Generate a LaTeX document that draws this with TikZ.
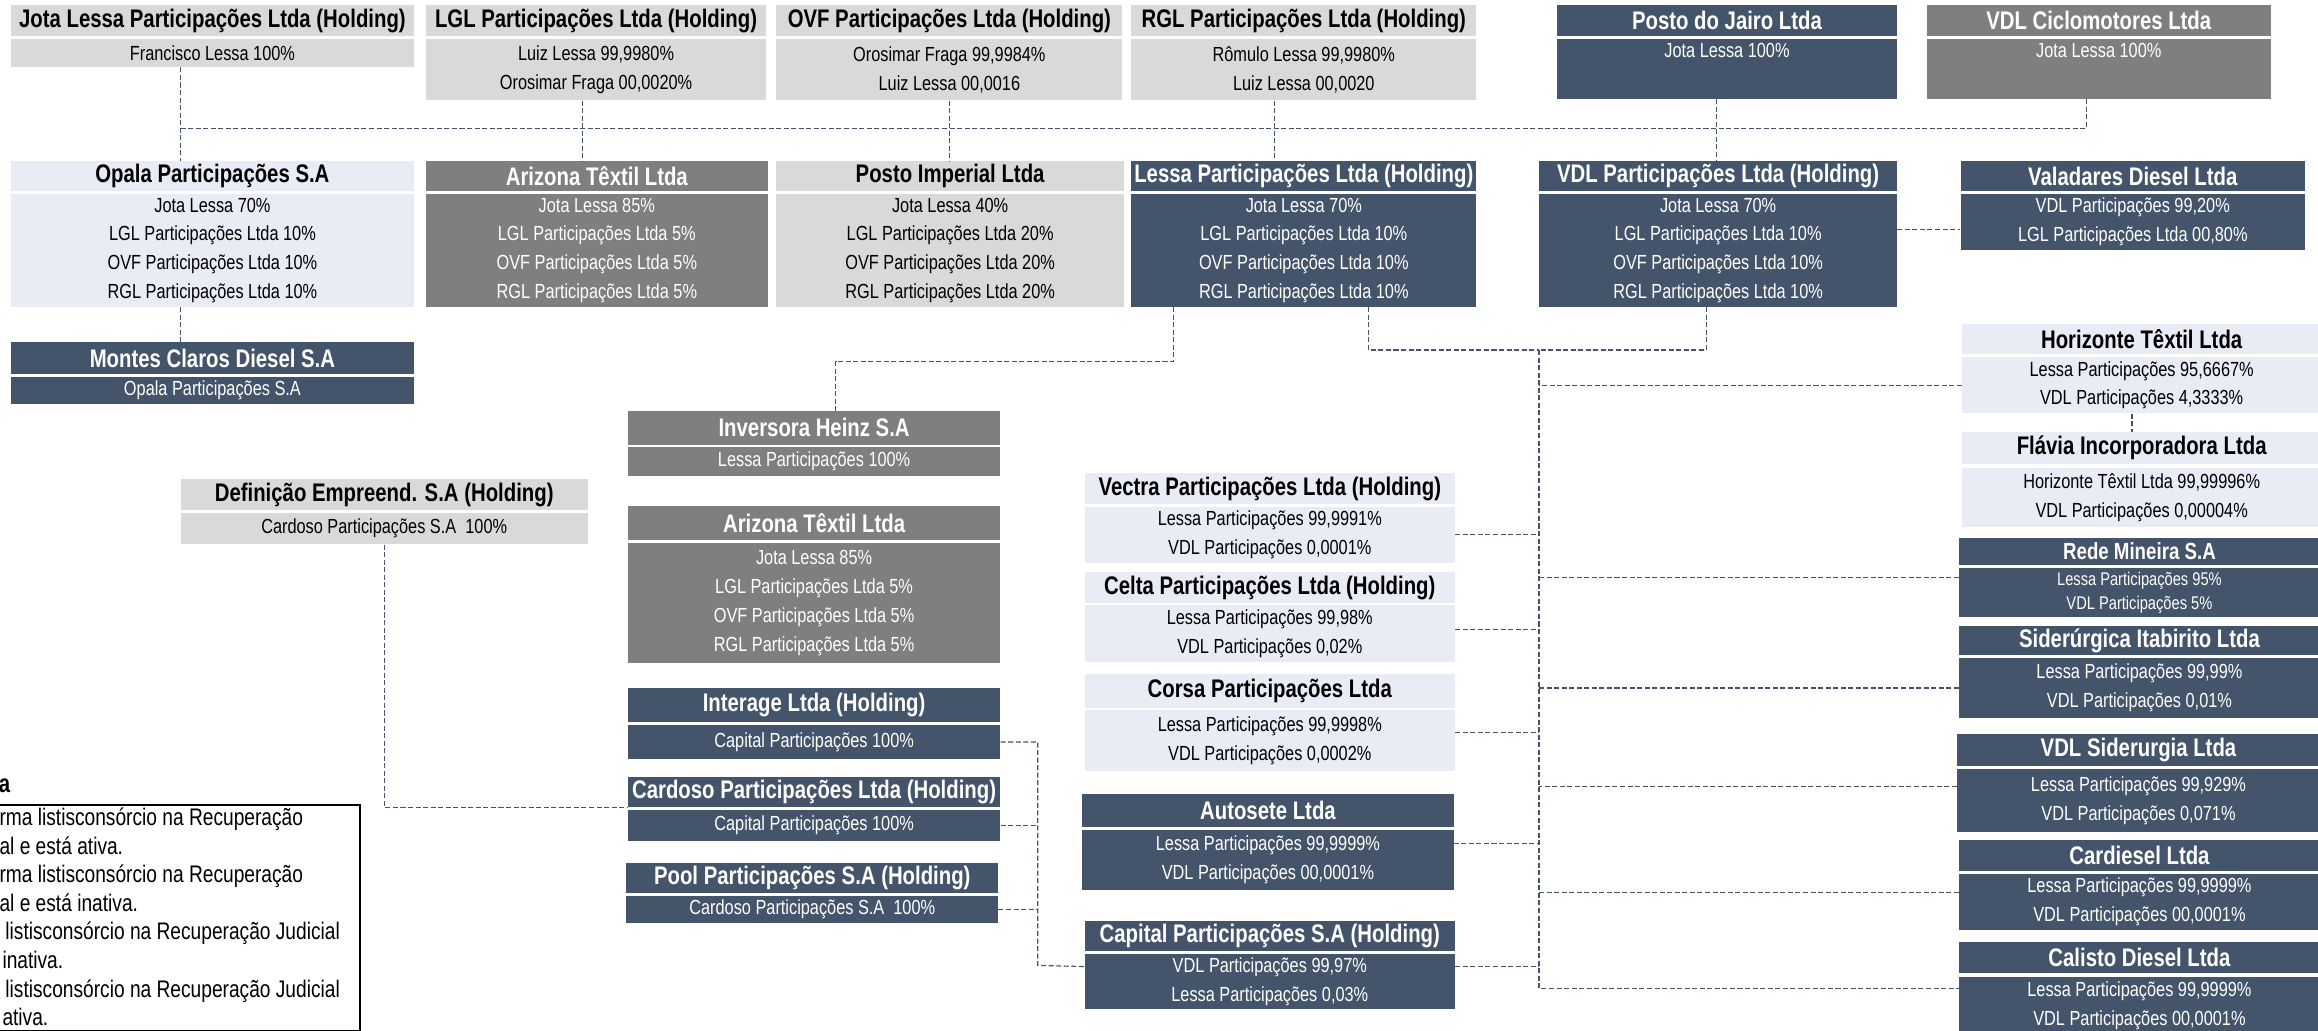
\documentclass[tikz,border=0pt]{standalone}
\usepackage{fontspec}
\setmainfont{Liberation Sans}
\newfontfamily\narrowfam[FakeStretch=0.8]{Liberation Sans}
\usetikzlibrary{positioning}
\definecolor{slate}{HTML}{44546A}
\definecolor{midgray}{HTML}{7F7F7F}
\definecolor{ltgray}{HTML}{D9D9D9}
\definecolor{paleblue}{HTML}{E9EBF5}
\newcommand{\titlefont}{\narrowfam\bfseries\fontsize{17.2}{19}\selectfont}
\newcommand{\rowfont}{\narrowfam\fontsize{13.8}{19.5}\selectfont}
\newcommand{\smalltitle}{\narrowfam\bfseries\fontsize{15.8}{17}\selectfont}
\newcommand{\smallrow}{\narrowfam\fontsize{12.4}{16}\selectfont}
\newcommand{\legendfont}{\narrowfam\fontsize{16.2}{19.3}\selectfont}
\begin{document}
\begin{tikzpicture}[x=1pt,y=-1pt,
    hdr/.style={rectangle,inner sep=0pt,minimum height=21pt,font=\titlefont,anchor=north west},
    bdy/.style={rectangle,inner sep=0pt,align=center,font=\rowfont},
    dk/.style={fill=slate,text=white},
    gy/.style={fill=midgray,text=white},
    lg/.style={fill=ltgray,text=black},
    lb/.style={fill=paleblue,text=black},
    link/.style={draw=slate,line width=0.8pt,dash pattern=on 3.4pt off 1.7pt}]
  \clip (0,0) rectangle (1568,697);
  % holdings on top
  \node[hdr,lg,minimum width=273pt] (jotaH) at (7,3.4) {Jota Lessa Participações Ltda (Holding)};
  \node[bdy,lg,minimum width=273pt,minimum height=19pt,below=1.4pt of jotaH] (jota) {Francisco Lessa 100\%};
  \node[hdr,lg,minimum width=230pt] (lglH) at (288,3.4) {LGL Participações Ltda (Holding)};
  \node[bdy,lg,minimum width=230pt,minimum height=41.5pt,below=1.4pt of lglH] (lgl) {Luiz Lessa 99,9980\%\\Orosimar Fraga 00,0020\%};
  \node[hdr,lg,minimum width=234pt] (ovfH) at (525,3.4) {OVF Participações Ltda (Holding)};
  \node[bdy,lg,minimum width=234pt,minimum height=41.5pt,below=1.4pt of ovfH] (ovf) {Orosimar Fraga 99,9984\%\\Luiz Lessa 00,0016};
  \node[hdr,lg,minimum width=233.5pt] (rglH) at (765,3.4) {RGL Participações Ltda (Holding)};
  \node[bdy,lg,minimum width=233.5pt,minimum height=41.5pt,below=1.4pt of rglH] (rgl) {Rômulo Lessa 99,9980\%\\Luiz Lessa 00,0020};
  \node[hdr,dk,minimum width=230pt] (jairoH) at (1053,3.4) {Posto do Jairo Ltda};
  \node[bdy,dk,minimum width=230pt,minimum height=40.5pt,below=1.4pt of jairoH] (jairo) {Jota Lessa 100\%\\ \strut};
  \node[hdr,gy,minimum width=233pt] (cicloH) at (1303,3.4) {VDL Ciclomotores Ltda};
  \node[bdy,gy,minimum width=233pt,minimum height=40.5pt,below=1.4pt of cicloH] (ciclo) {Jota Lessa 100\%\\ \strut};

  % second row
  \node[hdr,lb,minimum width=273pt,minimum height=20pt] (opalaH) at (7,109) {Opala Participações S.A};
  \node[bdy,lb,minimum width=273pt,minimum height=76.5pt,below=1.5pt of opalaH] (opala) {Jota Lessa 70\%\\LGL Participações Ltda 10\%\\OVF Participações Ltda 10\%\\RGL Participações Ltda 10\%};
  \node[hdr,gy,minimum width=231pt,minimum height=20pt] (arizonaH) at (288,109) {Arizona Têxtil Ltda};
  \node[bdy,gy,minimum width=231pt,minimum height=76.5pt,below=1.5pt of arizonaH] (arizona) {Jota Lessa 85\%\\LGL Participações Ltda 5\%\\OVF Participações Ltda 5\%\\RGL Participações Ltda 5\%};
  \node[hdr,lg,minimum width=235pt,minimum height=20pt] (imperialH) at (525,109) {Posto Imperial Ltda};
  \node[bdy,lg,minimum width=235pt,minimum height=76.5pt,below=1.5pt of imperialH] (imperial) {Jota Lessa 40\%\\LGL Participações Ltda 20\%\\OVF Participações Ltda 20\%\\RGL Participações Ltda 20\%};
  \node[hdr,dk,minimum width=233.5pt,minimum height=20pt] (lessaH) at (765,109) {Lessa Participações Ltda (Holding)};
  \node[bdy,dk,minimum width=233.5pt,minimum height=76.5pt,below=1.5pt of lessaH] (lessa) {Jota Lessa 70\%\\LGL Participações Ltda 10\%\\OVF Participações Ltda 10\%\\RGL Participações Ltda 10\%};
  \node[hdr,dk,minimum width=242pt,minimum height=20pt] (vdlH) at (1041,109) {VDL Participações Ltda (Holding)};
  \node[bdy,dk,minimum width=242pt,minimum height=76.5pt,below=1.5pt of vdlH] (vdl) {Jota Lessa 70\%\\LGL Participações Ltda 10\%\\OVF Participações Ltda 10\%\\RGL Participações Ltda 10\%};
  \node[hdr,dk,minimum width=233pt,minimum height=20pt] (valadaresH) at (1326,109) {Valadares Diesel Ltda};
  \node[bdy,dk,minimum width=233pt,minimum height=38pt,below=1.5pt of valadaresH] (valadares) {VDL Participações 99,20\%\\LGL Participações Ltda 00,80\%};
  \node[hdr,dk,minimum width=273pt,minimum height=21.6pt] (montesH) at (7,231.4) {Montes Claros Diesel S.A};
  \node[bdy,dk,minimum width=273pt,minimum height=18.3pt,below=1.4pt of montesH] (montes) {Opala Participações S.A};

  % left middle
  \node[hdr,gy,minimum width=252pt,minimum height=22.5pt] (inversoraH) at (424.5,278) {Inversora Heinz S.A};
  \node[bdy,gy,minimum width=252pt,minimum height=20pt,below=1.2pt of inversoraH] (inversora) {Lessa Participações 100\%};
  \node[hdr,gy,minimum width=252pt,minimum height=23pt] (arizonaBH) at (424.5,342) {Arizona Têxtil Ltda};
  \node[bdy,gy,minimum width=252pt,minimum height=81.6pt,below=1.4pt of arizonaBH] (arizonaB) {Jota Lessa 85\%\\LGL Participações Ltda 5\%\\OVF Participações Ltda 5\%\\RGL Participações Ltda 5\%};
  \node[hdr,dk,minimum width=252pt,minimum height=22.5pt] (interageH) at (424.5,465.5) {Interage Ltda (Holding)};
  \node[bdy,dk,minimum width=252pt,minimum height=23.5pt,below=1.5pt of interageH] (interage) {Capital Participações 100\%};
  \node[hdr,dk,minimum width=252pt,minimum height=20.3pt] (cardosoH) at (424.5,525.4) {Cardoso Participações Ltda (Holding)};
  \node[bdy,dk,minimum width=252pt,minimum height=21pt,below=1.6pt of cardosoH] (cardoso) {Capital Participações 100\%};
  \node[hdr,dk,minimum width=251.5pt,minimum height=20.4pt] (poolH) at (423.5,583.6) {Pool Participações S.A (Holding)};
  \node[bdy,dk,minimum width=251.5pt,minimum height=18.5pt,below=1.5pt of poolH] (pool) {Cardoso Participações S.A\ \ 100\%};
  \node[hdr,lg,minimum width=275.4pt] (definicaoH) at (122,324) {Definição Empreend. S.A (Holding)};
  \node[bdy,lg,minimum width=275.4pt,minimum height=21.2pt,below=1.4pt of definicaoH] (definicao) {Cardoso Participações S.A\ \ 100\%};

  % middle column
  \node[hdr,lb,minimum width=250.5pt] (vectraH) at (733.5,320) {Vectra Participações Ltda (Holding)};
  \node[bdy,lb,minimum width=250.5pt,minimum height=37.7pt,below=1.3pt of vectraH] (vectra) {Lessa Participações 99,9991\%\\VDL Participações 0,0001\%};
  \node[hdr,lb,minimum width=250.5pt] (celtaH) at (733.5,386.7) {Celta Participações Ltda (Holding)};
  \node[bdy,lb,minimum width=250.5pt,minimum height=38.3pt,below=1.0pt of celtaH] (celta) {Lessa Participações 99,98\%\\VDL Participações 0,02\%};
  \node[hdr,lb,minimum width=250.5pt,minimum height=22.7pt] (corsaH) at (733.5,456) {Corsa Participações Ltda};
  \node[bdy,lb,minimum width=250.5pt,minimum height=41.2pt,below=1.1pt of corsaH] (corsa) {Lessa Participações 99,9998\%\\VDL Participações 0,0002\%};
  \node[hdr,dk,minimum width=251pt,minimum height=22pt] (autoseteH) at (732,537) {Autosete Ltda};
  \node[bdy,dk,minimum width=251pt,minimum height=40.7pt,below=1.8pt of autoseteH] (autosete) {Lessa Participações 99,9999\%\\VDL Participações 00,0001\%};
  \node[hdr,dk,minimum width=250.5pt,minimum height=20.2pt] (capitalH) at (733.5,622.8) {Capital Participações S.A (Holding)};
  \node[bdy,dk,minimum width=250.5pt,minimum height=37.5pt,below=1.5pt of capitalH] (capital) {VDL Participações 99,97\%\\Lessa Participações 0,03\%};

  % right column
  \node[hdr,lb,minimum width=243pt,minimum height=20.5pt] (horizonteH) at (1327,219) {Horizonte Têxtil Ltda};
  \node[bdy,lb,minimum width=243pt,minimum height=38pt,below=1.5pt of horizonteH] (horizonte) {Lessa Participações 95,6667\%\\VDL Participações 4,3333\%};
  \node[hdr,lb,minimum width=243pt,minimum height=22pt] (flaviaH) at (1327,292) {Flávia Incorporadora Ltda};
  \node[bdy,lb,minimum width=243pt,minimum height=40pt,below=2pt of flaviaH] (flavia) {Horizonte Têxtil Ltda 99,99996\%\\VDL Participações 0,00004\%};
  \node[hdr,dk,font=\smalltitle,minimum width=244pt,minimum height=17.7pt] (redeH) at (1325,364) {Rede Mineira S.A};
  \node[bdy,dk,font=\smallrow,minimum width=244pt,minimum height=33.4pt,below=1.9pt of redeH] (rede) {Lessa Participações 95\%\\VDL Participações 5\%};
  \node[hdr,dk,minimum width=244pt,minimum height=20pt] (siderurgicaH) at (1325,423) {Siderúrgica Itabirito Ltda};
  \node[bdy,dk,minimum width=244pt,minimum height=40.5pt,below=1.5pt of siderurgicaH] (siderurgica) {Lessa Participações 99,99\%\\VDL Participações 0,01\%};
  \node[hdr,dk,minimum width=245.5pt,minimum height=21.4pt] (vdlsidH) at (1323.6,496.6) {VDL Siderurgia Ltda};
  \node[bdy,dk,minimum width=245.5pt,minimum height=42.4pt,below=1.6pt of vdlsidH] (vdlsid) {Lessa Participações 99,929\%\\VDL Participações 0,071\%};
  \node[hdr,dk,minimum width=244pt] (cardieselH) at (1325,568) {Cardiesel Ltda};
  \node[bdy,dk,minimum width=244pt,minimum height=38pt,below=1.6pt of cardieselH] (cardiesel) {Lessa Participações 99,9999\%\\VDL Participações 00,0001\%};
  \node[hdr,dk,minimum width=244pt] (calistoH) at (1325,637) {Calisto Diesel Ltda};
  \node[bdy,dk,minimum width=244pt,minimum height=40pt,below=2pt of calistoH] (calisto) {Lessa Participações 99,9999\%\\VDL Participações 00,0001\%};

  % legend (cut at the left edge)
  \node[font=\titlefont,anchor=base west,inner sep=0pt] (legtitle) at (-1,536) {a};
  \node[draw,line width=0.9pt,anchor=north west,minimum width=248pt,minimum height=152.5pt] (legbox) at (-5,544) {};
  \node[font=\legendfont,align=left,anchor=north west,inner sep=0pt] (legtext) at (-0.5,546.5)
    {rma listisconsórcio na Recuperação\\al e está ativa.\\rma listisconsórcio na Recuperação\\al e está inativa.\\
     \hspace*{4pt}listisconsórcio na Recuperação Judicial\\\hspace*{2pt}inativa.\\
     \hspace*{4pt}listisconsórcio na Recuperação Judicial\\\hspace*{2pt}ativa.};

  % connectors
  \coordinate (bus) at (0,87);
  \coordinate (tr) at (1041,236.8);
  \coordinate (cj) at (702,653);
  \draw[link] ([xshift=-8.5pt]ciclo.south) |- ([xshift=-21.5pt]jota.south |- bus);
  \draw[link] ([xshift=-21.5pt]jota.south) -- ([xshift=-21.5pt]opalaH.north);
  \draw[link] ([xshift=-9pt]lgl.south) -- ([xshift=-9pt]lgl.south |- arizonaH.north);
  \draw[link] (ovf.south) -- (ovf.south |- imperialH.north);
  \draw[link] ([xshift=-20pt]rgl.south) -- ([xshift=-20pt]rgl.south |- lessaH.north);
  \draw[link] ([xshift=-7pt]jairo.south) -- ([xshift=-7pt]jairo.south |- vdlH.north);
  \draw[link] ([xshift=-21.5pt]opala.south) -- ([xshift=-21.5pt]montesH.north);
  \draw[link] ([yshift=14pt]vdl.east) -- ([yshift=14pt]vdl.east -| valadares.west);
  \draw[link] ([xshift=-88pt]lessa.south) -- ++(0,36.6) -| ([xshift=14.5pt]inversoraH.north);
  \draw[link] ([xshift=43.75pt]lessa.south) |- (tr);
  \draw[link] ([xshift=-8pt]vdl.south) |- (tr);
  \draw[link] (tr) |- ([yshift=12pt]calisto.west);
  \draw[link] (horizonte.west) -- (horizonte.west -| tr);
  \draw[link] ([xshift=-6.5pt]horizonte.south) -- ([xshift=-6.5pt]flaviaH.north);
  \draw[link] ([yshift=10pt]rede.west) -- ([yshift=10pt]rede.west -| tr);
  \draw[link] (siderurgica.west) -- (siderurgica.west -| tr);
  \draw[link] ([yshift=9.3pt]vdlsid.west) -- ([yshift=9.3pt]vdlsid.west -| tr);
  \draw[link] ([yshift=6.6pt]cardiesel.west) -- ([yshift=6.6pt]cardiesel.west -| tr);
  \draw[link] (vectra.east) -- (vectra.east -| tr);
  \draw[link] ([yshift=2.4pt]celta.east) -- ([yshift=2.4pt]celta.east -| tr);
  \draw[link] ([yshift=5.4pt]corsa.east) -- ([yshift=5.4pt]corsa.east -| tr);
  \draw[link] ([yshift=11pt]autosete.east) -- ([yshift=11pt]autosete.east -| tr);
  \draw[link] ([yshift=10pt]capital.east) -- ([yshift=10pt]capital.east -| tr);
  \draw[link] (interage.east) -| (cj) -- ([yshift=10pt]capital.west);
  \draw[link] (cardoso.east) -- (cardoso.east -| cj);
  \draw[link] (pool.east) -- (pool.east -| cj);
  \draw[link] (definicao.south) |- (cardosoH.south west);
\end{tikzpicture}
\end{document}
